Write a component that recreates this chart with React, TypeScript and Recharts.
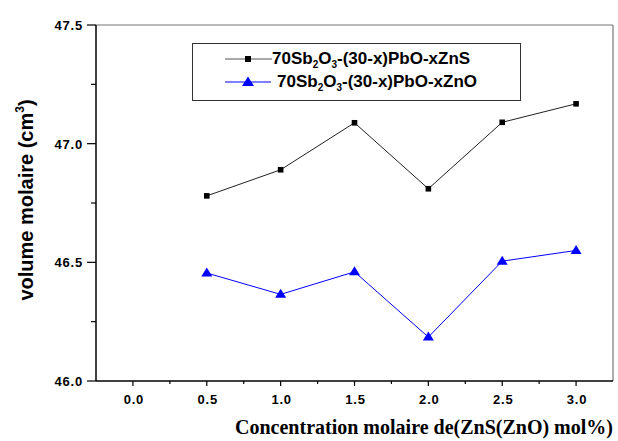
import { LineChart, Line, XAxis, YAxis, ReferenceLine, Customized } from "recharts";

// values
const xValues = [0.5, 1.0, 1.5, 2.0, 2.5, 3.0];
const znsVolume = [46.78, 46.89, 47.088, 46.81, 47.09, 47.168];
const znoVolume = [46.455, 46.365, 46.46, 46.185, 46.505, 46.55];

const xTicks = [-0.25, 0, 0.25, 0.5, 0.75, 1, 1.25, 1.5, 1.75, 2, 2.25, 2.5, 2.75, 3, 3.25];
const yTicks = [46, 46.25, 46.5, 46.75, 47, 47.25, 47.5];

const seriesNames = ["ZnS", "ZnO"];
const xLabel = "Concentration molaire de(ZnS(ZnO) mol%)";
const yLabel = "volume molaire (cm";

const data = xValues.map((x, i) => ({ x, zns: znsVolume[i], zno: znoVolume[i] }));

const tickFont = { fontFamily: "Liberation Sans, Arial, sans-serif", fontWeight: 700, fontSize: 13, letterSpacing: 0.8 };

const isMajor = (v: number) => Math.abs(v * 2 - Math.round(v * 2)) < 1e-6;

const YTick = (props: any) => {
  const { x, y, payload } = props;
  const v = payload.value;
  const major = isMajor(v);
  return (
    <g>
      <line x1={x - (major ? 9 : 5)} x2={x} y1={y} y2={y} stroke="#000" strokeWidth={1.2} />
      {major && (
        <text x={x - 13} y={y + 5} textAnchor="end" fill="#000" style={tickFont}>
          {v.toFixed(1)}
        </text>
      )}
    </g>
  );
};

const XTick = (props: any) => {
  const { x, y, payload } = props;
  const v = payload.value;
  const major = isMajor(v) && v >= 0 && v <= 3;
  if (v < 0 || v > 3.2) return <g />;
  return (
    <g>
      <line x1={x} x2={x} y1={y} y2={y + (major ? 5 : 3)} stroke="#000" strokeWidth={1.2} />
      {major && (
        <text x={x + 1} y={y + 23} textAnchor="middle" fill="#000" style={tickFont}>
          {v.toFixed(1)}
        </text>
      )}
    </g>
  );
};

const Square = (props: any) => {
  const { cx, cy, index } = props;
  return <rect key={`s${index}`} x={cx - 2.8} y={cy - 2.8} width={5.6} height={5.6} fill="#000" />;
};

const Triangle = (props: any) => {
  const { cx, cy, index } = props;
  return (
    <polygon
      key={`t${index}`}
      points={`${cx},${cy - 5.5} ${cx - 5.5},${cy + 3.5} ${cx + 5.5},${cy + 3.5}`}
      fill="#0000ff"
    />
  );
};

const AxisTitles = () => (
  <g>
    <text
      transform="translate(33,200) rotate(-90)"
      textAnchor="middle"
      fill="#000"
      style={{ fontFamily: "Liberation Sans, Arial, sans-serif", fontWeight: 700, fontSize: 20 }}
    >
      {yLabel}
      <tspan dy={-9} fontSize={12}>3</tspan>
      <tspan dy={9}>)</tspan>
    </text>
    <text
      x={613}
      y={434}
      textAnchor="end"
      fill="#000"
      style={{ fontFamily: "Liberation Serif, Times New Roman, serif", fontWeight: 700, fontSize: 20 }}
    >
      {xLabel}
    </text>
  </g>
);

const subStyle = { fontSize: 10, verticalAlign: -4, lineHeight: 0 };

const Formula = ({ suffix }: { suffix: string }) => (
  <span style={{ whiteSpace: "nowrap" }}>
    70Sb<sub style={subStyle}>2</sub>O<sub style={subStyle}>3</sub>-(30-x)PbO-x{suffix}
  </span>
);

const legendText = {
  fontFamily: "Liberation Sans, Arial, sans-serif",
  fontWeight: 700,
  fontSize: 17,
  color: "#000",
  lineHeight: "18px",
};

const App = () => {
  return (
    <div style={{ position: "absolute", left: 0, top: 0, width: 618, height: 441, background: "#fff" }}>
      <LineChart width={618} height={441} data={data} margin={{ top: 25, right: 5, bottom: 30, left: 36 }}>
        <XAxis
          dataKey="x"
          type="number"
          domain={[-0.25, 3.25]}
          ticks={xTicks}
          interval={0}
          tickSize={0}
          tickMargin={0}
          tickLine={false}
          tick={<XTick />}
          height={30}
          stroke="#000"
          strokeWidth={1.5}
        />
        <YAxis
          type="number"
          domain={[46, 47.5]}
          ticks={yTicks}
          interval={0}
          tickSize={0}
          tickMargin={0}
          tickLine={false}
          tick={<YTick />}
          width={60}
          stroke="#000"
          strokeWidth={1.5}
        />
        <ReferenceLine y={47.5} stroke="#777" strokeWidth={1.2} />
        <ReferenceLine x={3.25} stroke="#777" strokeWidth={1.2} />
        <Line
          dataKey="zns"
          name={seriesNames[0]}
          stroke="#222"
          strokeWidth={1}
          dot={<Square />}
          isAnimationActive={false}
        />
        <Line
          dataKey="zno"
          name={seriesNames[1]}
          stroke="#0000ff"
          strokeWidth={1}
          dot={<Triangle />}
          isAnimationActive={false}
        />
        <Customized component={<AxisTitles />} />
      </LineChart>
      <div
        style={{
          position: "absolute",
          left: 192,
          top: 43,
          width: 327,
          height: 56,
          border: "1.5px solid #333",
          boxSizing: "content-box",
        }}
      >
        <div style={{ position: "absolute", left: 32, top: 6, display: "flex", alignItems: "center", ...legendText }}>
          <svg width={47} height={14}>
            <line x1={0} x2={47} y1={7} y2={7} stroke="#555" strokeWidth={1.2} />
            <rect x={20} y={4} width={6} height={6} fill="#000" />
          </svg>
          <Formula suffix="ZnS" />
        </div>
        <div style={{ position: "absolute", left: 32, top: 29, display: "flex", alignItems: "center", ...legendText }}>
          <svg width={52} height={14}>
            <line x1={0} x2={46} y1={7} y2={7} stroke="#0000ff" strokeWidth={1.2} />
            <polygon points="23,1.5 17,11 29,11" fill="#0000ff" />
          </svg>
          <Formula suffix="ZnO" />
        </div>
      </div>
    </div>
  );
};

export default App;
